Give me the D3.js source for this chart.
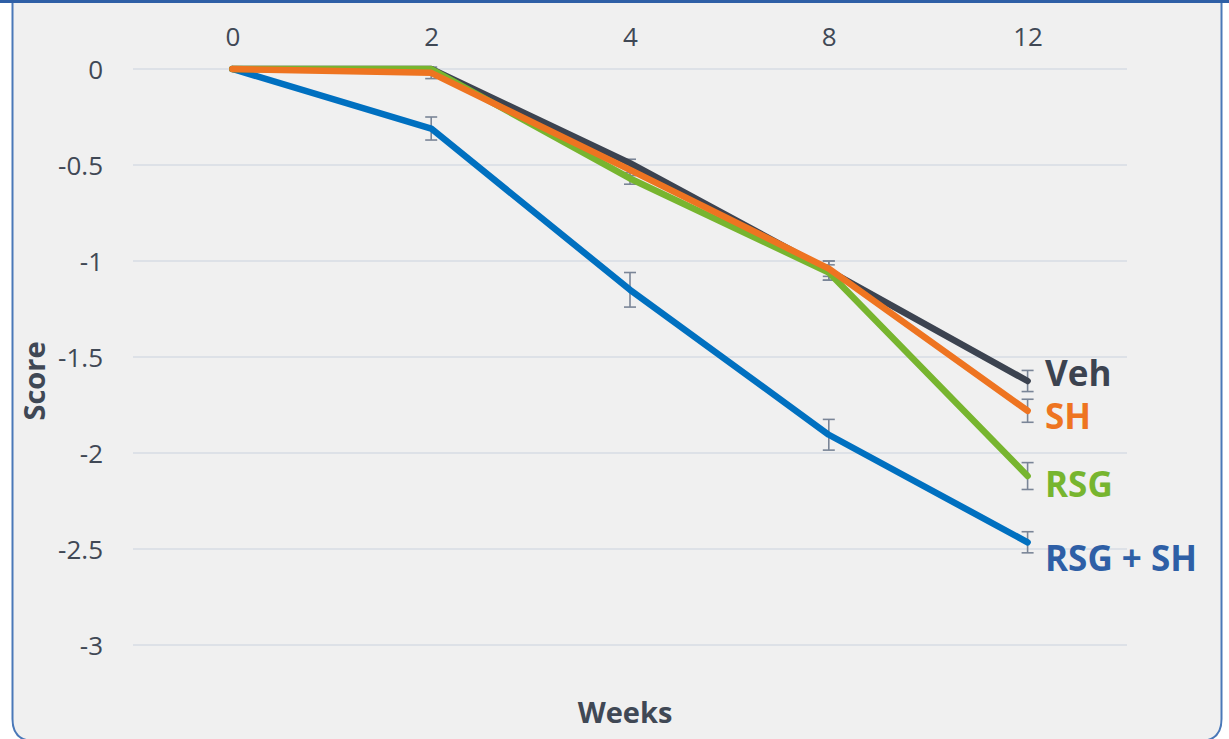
<!DOCTYPE html>
<html>
<head>
<meta charset="utf-8">
<script src="https://cdn.jsdelivr.net/npm/d3@7"></script>
<style>
  body { margin: 0; background: #ffffff; }
  svg { display: block; font-family: "Open Sans", sans-serif; }
</style>
</head>
<body>
<svg id="chart"></svg>
<script>
// weeks shown as evenly spaced categories
const weeks = ["0", "2", "4", "8", "12"];
const yTicks = [0, -0.5, -1, -1.5, -2, -2.5, -3];

const vehValues = [0, 0, -0.49, -1.05, -1.625];
const shValues = [0, -0.02, -0.525, -1.04, -1.78];
const rsgValues = [0, 0, -0.57, -1.06, -2.12];
const rsgShValues = [0, -0.31, -1.15, -1.905, -2.465];

const vehErr = [0, 0, 0.02, 0.05, 0.055];
const shErr = [0, 0.03, 0.03, 0.04, 0.06];
const rsgErr = [0, 0, 0.03, 0.04, 0.07];
const rsgShErr = [0, 0.06, 0.09, 0.08, 0.055];

const width = 1229, height = 739;

const svg = d3.select("#chart")
  .attr("width", width)
  .attr("height", height);

// panel with rounded bottom corners
const px0 = 12.5, px1 = 1221.5, py0 = 1.5, py1 = 741, r = 22;
svg.append("path")
  .attr("d", `M${px0},${py0} H${px1} V${py1 - r} Q${px1},${py1} ${px1 - r},${py1} H${px0 + r} Q${px0},${py1} ${px0},${py1 - r} Z`)
  .attr("fill", "#f0f0f0")
  .attr("stroke", "#4a78b8")
  .attr("stroke-width", 2);
svg.append("line")
  .attr("x1", 0).attr("x2", width)
  .attr("y1", 1.5).attr("y2", 1.5)
  .attr("stroke", "#2e5fa6")
  .attr("stroke-width", 3);

const x = d3.scalePoint()
  .domain(weeks)
  .range([133, 1127])
  .padding(0.5);

const y = d3.scaleLinear()
  .domain([0, -3])
  .range([69, 645]);

// gridlines
svg.append("g")
  .selectAll("line")
  .data(yTicks)
  .join("line")
  .attr("x1", 133)
  .attr("x2", 1127)
  .attr("y1", d => y(d))
  .attr("y2", d => y(d))
  .attr("stroke", "#dde1e7")
  .attr("stroke-width", 2);

// y tick labels (plain hyphen, as in the original)
const yAxis = svg.append("g")
  .attr("transform", "translate(103,0)")
  .call(d3.axisLeft(y).tickValues(yTicks).tickSize(0).tickPadding(0).tickFormat(d => String(d)));
yAxis.select(".domain").remove();
yAxis.selectAll("text")
  .attr("fill", "#404855")
  .style("font-size", "26px")
  .style("font-family", "'Open Sans', sans-serif")
  .attr("dy", "0.36em");

// x tick labels along the top
const xAxis = svg.append("g")
  .attr("transform", "translate(0,37)")
  .call(d3.axisTop(x).tickSize(0).tickPadding(0));
xAxis.select(".domain").remove();
xAxis.selectAll("text")
  .attr("fill", "#404855")
  .style("font-size", "26px")
  .style("font-family", "'Open Sans', sans-serif")
  .attr("dy", "0.36em");

// axis titles
svg.append("text")
  .attr("x", 625)
  .attr("y", 713)
  .attr("dy", "0.36em")
  .attr("text-anchor", "middle")
  .attr("fill", "#404855")
  .style("font-size", "29px")
  .style("font-weight", "bold")
  .text("Weeks");

svg.append("text")
  .attr("transform", "translate(35,381) rotate(-90)")
  .attr("dy", "0.36em")
  .attr("text-anchor", "middle")
  .attr("fill", "#404855")
  .style("font-size", "29px")
  .style("font-weight", "bold")
  .text("Score");

const series = [
  { name: "RSG + SH", values: rsgShValues, err: rsgShErr, color: "#0070c0", label: "#2e5fa6", dy: 16 },
  { name: "Veh", values: vehValues, err: vehErr, color: "#3c4350", label: "#3c4350", dy: -8 },
  { name: "RSG", values: rsgValues, err: rsgErr, color: "#77b52f", label: "#77b52f", dy: 8 },
  { name: "SH", values: shValues, err: shErr, color: "#ee7421", label: "#ee7421", dy: 6 }
];

// error bars
const errG = svg.append("g")
  .attr("stroke", "#7a8597")
  .attr("stroke-width", 1.6)
  .attr("fill", "none");
series.forEach(s => {
  s.values.forEach((v, i) => {
    const e = s.err[i];
    if (!e) return;
    const cx = x(weeks[i]);
    errG.append("line")
      .attr("x1", cx).attr("x2", cx)
      .attr("y1", y(v + e)).attr("y2", y(v - e));
    [v + e, v - e].forEach(t => {
      errG.append("line")
        .attr("x1", cx - 6).attr("x2", cx + 6)
        .attr("y1", y(t)).attr("y2", y(t));
    });
  });
});

const line = d3.line()
  .x((d, i) => x(weeks[i]))
  .y(d => y(d));

series.forEach(s => {
  svg.append("path")
    .datum(s.values)
    .attr("d", line)
    .attr("fill", "none")
    .attr("stroke", s.color)
    .attr("stroke-width", 6.5)
    .attr("stroke-linecap", "round")
    .attr("stroke-linejoin", "round");
});

// end labels
series.forEach(s => {
  const last = s.values[s.values.length - 1];
  svg.append("text")
    .attr("x", 1045)
    .attr("y", y(last) + s.dy)
    .attr("dy", "0.36em")
    .attr("fill", s.label)
    .style("font-size", "35px")
    .style("font-weight", "bold")
    .text(s.name);
});
</script>
</body>
</html>
